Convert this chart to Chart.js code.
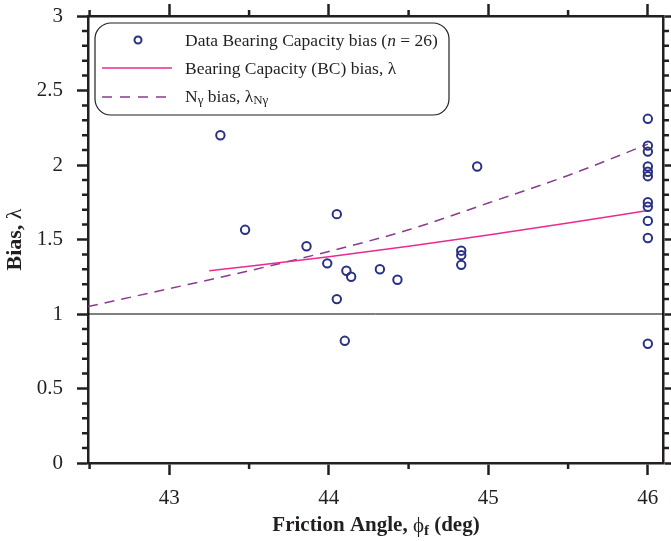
<!DOCTYPE html>
<html>
<head>
<meta charset="utf-8">
<script src="https://cdn.jsdelivr.net/npm/chart.js@4"></script>
<style>
  html, body { margin: 0; padding: 0; background: #fff; }
  #wrap { width: 671px; height: 541px; position: relative; }
</style>
</head>
<body>
<div id="wrap"><canvas id="chart"></canvas></div>
<script>
// measured bias data (friction angle in deg, bias)
const dataAngle = [43.32, 43.475, 44.05, 43.86, 43.99, 44.11, 44.14, 44.32, 44.43, 44.05, 44.10,
                   44.93, 44.83, 44.83, 44.83,
                   46, 46, 46, 46, 46, 46, 46, 46, 46, 46, 46];
const dataBias  = [2.20, 1.565, 1.67, 1.455, 1.34, 1.29, 1.25, 1.30, 1.23, 1.10, 0.82,
                   1.99, 1.425, 1.395, 1.33,
                   2.31, 2.13, 2.09, 1.99, 1.955, 1.925, 1.75, 1.72, 1.625, 1.51, 0.80];

// BC bias curve
const bcAngle = [43.25, 43.5, 44.0, 44.5, 45.0, 45.5, 46.0];
const bcBias  = [1.29, 1.32, 1.385, 1.455, 1.53, 1.61, 1.695];

// N-gamma bias curve
const ngAngle = [42.49, 43.0, 43.5, 44.0, 44.5, 45.0, 45.5, 46.0];
const ngBias  = [1.05, 1.17, 1.29, 1.42, 1.565, 1.745, 1.93, 2.14];

// reference line
const refAngle = [42.49, 46.095];
const refBias  = [1, 1];

const xTicks = [43, 44, 45, 46];
const xMinor = [42.5, 43.5, 44.5, 45.5];
const yTicks = [0, 0.5, 1, 1.5, 2, 2.5, 3];
const yLabels = ['0', '0.5', '1', '1.5', '2', '2.5', '3'];
const yMinor = [0.1, 0.2, 0.3, 0.4, 0.6, 0.7, 0.8, 0.9, 1.1, 1.2, 1.3, 1.4, 1.6, 1.7, 1.8, 1.9,
                2.1, 2.2, 2.3, 2.4, 2.6, 2.7, 2.8, 2.9];

const ink = '#231f20';
const navy = '#2a3183';
const pink = '#ec2a8e';
const purple = '#8a3b8f';
const serif = 'Liberation Serif';

const pts = (xs, ys) => xs.map((x, i) => ({ x: x, y: ys[i] }));

const decor = {
  id: 'decor',
  afterDraw(chart) {
    const ctx = chart.ctx;
    const a = chart.chartArea;
    const sx = chart.scales.x, sy = chart.scales.y;
    ctx.save();

    // minor ticks
    ctx.strokeStyle = ink;
    ctx.lineWidth = 2.5;
    ctx.beginPath();
    xMinor.forEach(v => {
      const px = sx.getPixelForValue(v);
      ctx.moveTo(px, a.bottom); ctx.lineTo(px, a.bottom + 6);
      ctx.moveTo(px, a.top); ctx.lineTo(px, a.top - 6);
    });
    yMinor.forEach(v => {
      const py = sy.getPixelForValue(v);
      ctx.moveTo(a.left, py); ctx.lineTo(a.left - 6, py);
      ctx.moveTo(a.right, py); ctx.lineTo(a.right + 6, py);
    });
    ctx.stroke();

    // legend box
    const bx = 95, by = 23, bw = 354, bh = 92, r = 16;
    ctx.beginPath();
    ctx.roundRect(bx, by, bw, bh, r);
    ctx.fillStyle = '#fff';
    ctx.fill();
    ctx.lineWidth = 1.2;
    ctx.strokeStyle = ink;
    ctx.stroke();

    // legend samples
    ctx.beginPath();
    ctx.arc(138, 40, 3.5, 0, Math.PI * 2);
    ctx.lineWidth = 2;
    ctx.strokeStyle = navy;
    ctx.stroke();

    ctx.beginPath();
    ctx.moveTo(102, 68); ctx.lineTo(172, 68);
    ctx.lineWidth = 1.5;
    ctx.strokeStyle = pink;
    ctx.stroke();

    ctx.beginPath();
    ctx.setLineDash([10, 8]);
    ctx.moveTo(102, 97); ctx.lineTo(172, 97);
    ctx.strokeStyle = purple;
    ctx.stroke();
    ctx.setLineDash([]);

    // legend text
    ctx.fillStyle = ink;
    ctx.textBaseline = 'middle';
    ctx.textAlign = 'left';
    const seg = (parts, x, y) => {
      parts.forEach(p => {
        ctx.font = p[1];
        ctx.fillText(p[0], x, y + (p[2] || 0));
        x += ctx.measureText(p[0]).width;
      });
    };
    const f = '17.5px "' + serif + '"';
    const fi = 'italic 17.5px "' + serif + '"';
    const fs = '13px "' + serif + '"';
    seg([['Data Bearing Capacity bias (', f], ['n', fi], [' = 26)', f]], 185, 41);
    seg([['Bearing Capacity (BC) bias, \u03bb', f]], 185, 69);
    seg([['N', f], ['\u03b3', fs, 4], [' bias, \u03bb', f], ['N\u03b3', fs, 4]], 185, 97);

    // axis titles
    const fb = 'bold 21px "' + serif + '"';
    const fbs = 'bold 15px "' + serif + '"';
    const xParts = [['Friction Angle, ', fb], ['\u03d5', '21px "' + serif + '"'], ['f', fbs, 5], [' (deg)', fb]];
    let tw = 0;
    xParts.forEach(p => { ctx.font = p[1]; tw += ctx.measureText(p[0]).width; });
    seg(xParts, 376 - tw / 2, 526);

    ctx.translate(15, (a.top + a.bottom) / 2);
    ctx.rotate(-Math.PI / 2);
    const yParts = [['Bias, ', 'bold 22px "' + serif + '"'], ['\u03bb', '22px "' + serif + '"']];
    tw = 0;
    yParts.forEach(p => { ctx.font = p[1]; tw += ctx.measureText(p[0]).width; });
    seg(yParts, -tw / 2, 0);

    ctx.restore();
  }
};

const tickFont = { family: serif, size: 21 };
const gridOpts = (len) => ({ drawOnChartArea: false, tickLength: len, tickWidth: 2.5, tickColor: ink });
const borderOpts = { display: true, width: 2.5, color: ink };
const noPad = s => { s.paddingTop = 0; s.paddingBottom = 0; s.paddingLeft = 0; s.paddingRight = 0; };

new Chart(document.getElementById('chart'), {
  type: 'scatter',
  data: {
    datasets: [
      {
        label: 'ref',
        type: 'line',
        data: pts(refAngle, refBias),
        borderColor: '#000',
        borderWidth: 1,
        pointRadius: 0,
        order: 4
      },
      {
        label: 'Nγ bias',
        type: 'line',
        data: pts(ngAngle, ngBias),
        borderColor: purple,
        borderWidth: 1.5,
        borderDash: [10, 7],
        pointRadius: 0,
        cubicInterpolationMode: 'monotone',
        order: 3
      },
      {
        label: 'BC bias',
        type: 'line',
        data: pts(bcAngle, bcBias),
        borderColor: pink,
        borderWidth: 1.5,
        pointRadius: 0,
        cubicInterpolationMode: 'monotone',
        order: 2
      },
      {
        label: 'Data',
        data: pts(dataAngle, dataBias),
        pointStyle: 'circle',
        pointRadius: 4.2,
        pointBorderWidth: 2,
        borderColor: navy,
        backgroundColor: 'rgba(0,0,0,0)',
        order: 1
      }
    ]
  },
  options: {
    responsive: true,
    maintainAspectRatio: false,
    animation: false,
    layout: { padding: 0 },
    plugins: {
      legend: { display: false },
      tooltip: { enabled: false }
    },
    scales: {
      x: {
        type: 'linear',
        position: 'bottom',
        min: 42.49,
        max: 46.095,
        afterBuildTicks: s => { s.ticks = xTicks.map(v => ({ value: v })); },
        afterFit: s => { s.height = 78; noPad(s); },
        ticks: { font: tickFont, color: ink, padding: 11, maxRotation: 0 },
        grid: gridOpts(12),
        border: borderOpts
      },
      x2: {
        type: 'linear',
        position: 'top',
        min: 42.49,
        max: 46.095,
        afterBuildTicks: s => { s.ticks = xTicks.map(v => ({ value: v })); },
        afterFit: s => { s.height = 16; noPad(s); },
        ticks: { display: false },
        grid: gridOpts(12),
        border: borderOpts
      },
      y: {
        type: 'linear',
        position: 'left',
        min: 0,
        max: 3,
        afterBuildTicks: s => { s.ticks = yTicks.map(v => ({ value: v })); },
        afterFit: s => { s.width = 88; noPad(s); },
        ticks: { font: tickFont, color: ink, padding: 14, callback: (v, i) => yLabels[i] },
        grid: gridOpts(11),
        border: borderOpts
      },
      y2: {
        type: 'linear',
        position: 'right',
        min: 0,
        max: 3,
        afterBuildTicks: s => { s.ticks = yTicks.map(v => ({ value: v })); },
        afterFit: s => { s.width = 8; noPad(s); },
        ticks: { display: false },
        grid: gridOpts(11),
        border: borderOpts
      }
    }
  },
  plugins: [decor]
});
</script>
</body>
</html>
